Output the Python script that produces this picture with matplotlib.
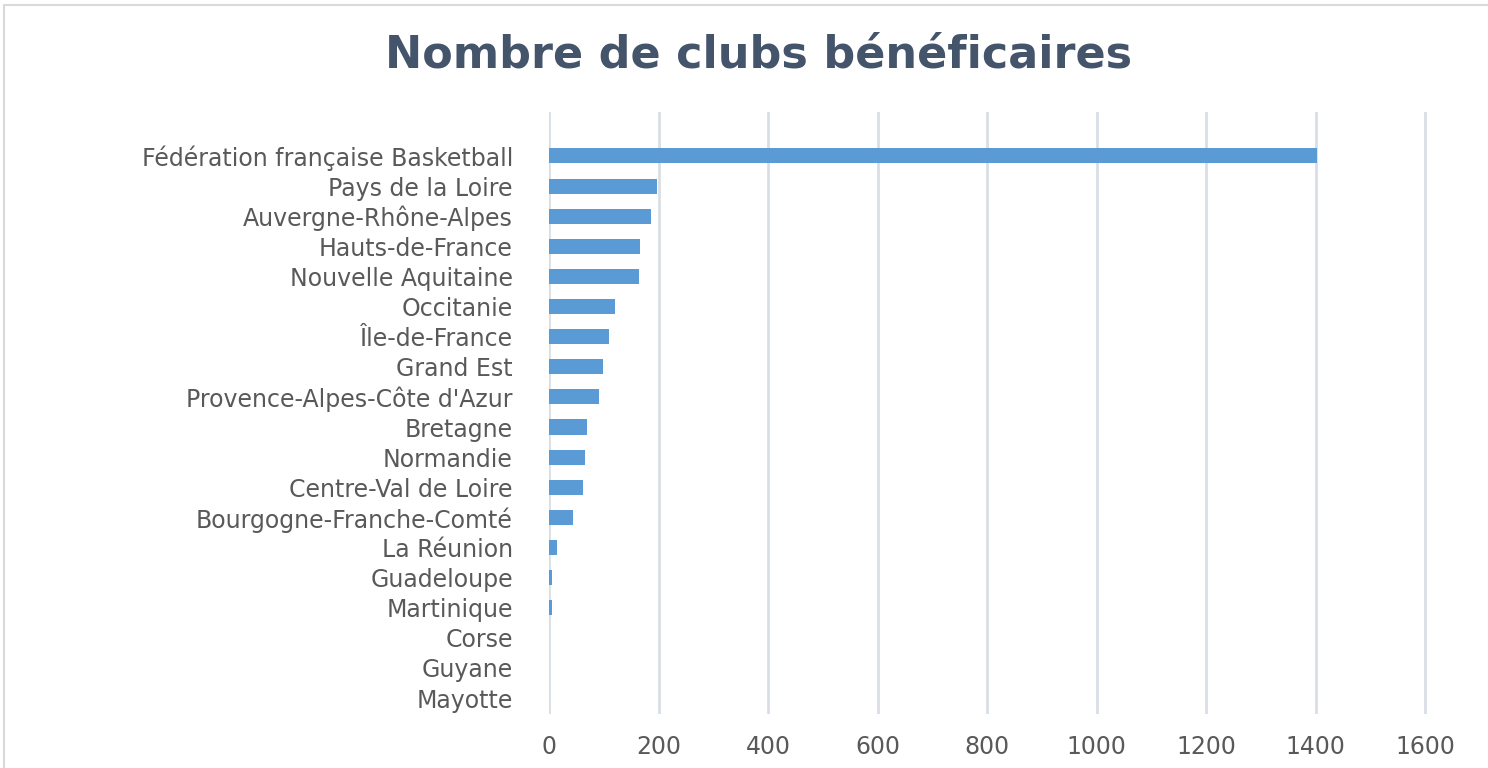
import matplotlib
matplotlib.use("Agg")
import matplotlib.pyplot as plt
from matplotlib.patches import Rectangle

categories = ["Fédération française Basketball", "Pays de la Loire", "Auvergne-Rhône-Alpes",
              "Hauts-de-France", "Nouvelle Aquitaine", "Occitanie", "Île-de-France", "Grand Est",
              "Provence-Alpes-Côte d'Azur", "Bretagne", "Normandie", "Centre-Val de Loire",
              "Bourgogne-Franche-Comté", "La Réunion", "Guadeloupe", "Martinique", "Corse",
              "Guyane", "Mayotte"]
values = [1403, 197, 186, 167, 164, 121, 109, 98, 91, 69, 66, 62, 44, 15, 6, 6, 0, 0, 0]
xticks = [0, 200, 400, 600, 800, 1000, 1200, 1400, 1600]

W, H = 1488, 768
fig = plt.figure(figsize=(W / 100, H / 100), dpi=100)
fig.patch.set_facecolor("white")

# outer chart frame
fig.add_artist(Rectangle((4 / W, -0.01), 1.1, 1 - 5 / H + 0.01, transform=fig.transFigure,
                         fill=False, edgecolor="#D9D9D9", linewidth=1.5))

x0, x1 = 549, 1425
ax = fig.add_axes([x0 / W, 1 - 714 / H, (x1 + 30 - x0) / W, (714 - 112) / H])
xmax = 1600 * (x1 + 30 - x0) / (x1 - x0)
ax.set_xlim(0, xmax)

pos = list(range(len(categories)))
ax.barh(pos, values, height=0.5, color="#5B9BD5", edgecolor="none", zorder=3)
ax.set_ylim(len(categories) - 1 + 0.53, -1.46)
ax.set_yticks(pos)
ax.set_yticklabels(categories, fontsize=17, color="#595959", family="DejaVu Sans",
                   va="center_baseline")
ax.set_xticks(xticks)
ax.set_xticklabels([str(t) for t in xticks], fontsize=17, color="#595959", family="DejaVu Sans")
ax.tick_params(axis="both", length=0)
ax.tick_params(axis="y", pad=26)
ax.tick_params(axis="x", pad=15)
for s in ax.spines.values():
    s.set_visible(False)
ax.grid(axis="x", color="#D9DEE6", linewidth=2, zorder=0)
ax.set_axisbelow(True)

fig.text(759 / W, 1 - 55 / H, "Nombre de clubs bénéficaires", ha="center", va="center",
         fontsize=32, fontweight="bold", color="#44546A", family="DejaVu Sans")

fig.savefig("out.png", dpi=100)
